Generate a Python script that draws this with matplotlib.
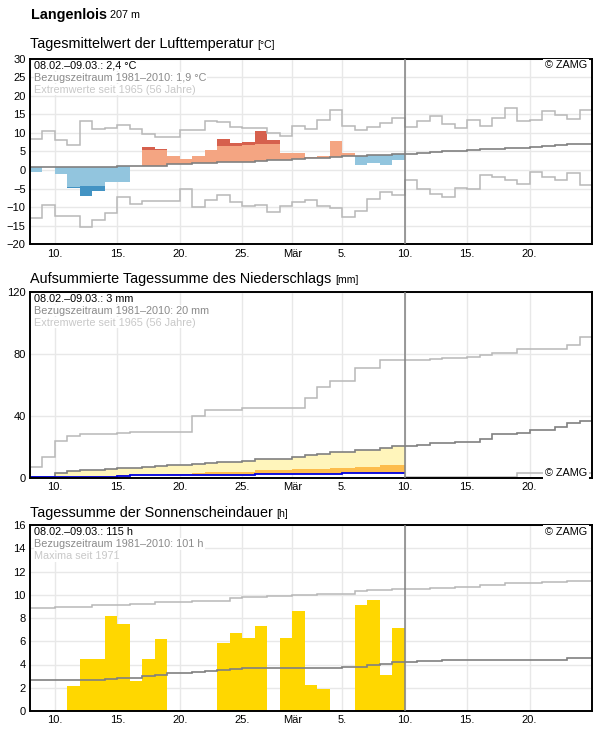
import numpy as np
import matplotlib
matplotlib.use("Agg")
import matplotlib.pyplot as plt

plt.rcParams['font.family'] = ['Liberation Sans', 'DejaVu Sans']

# ---------------- data ----------------
# x axis: days since 08.02. (45 days shown, 30 days observed)
tick_days = [2, 7, 12, 17, 21, 25, 30, 35, 40]
tick_labels = ["10.", "15.", "20.", "25.", "Mär", "5.", "10.", "15.", "20."]

# temperature (°C)
temp_obs = [-0.4, 0.8, -1.0, -4.7, -7.1, -5.6, -3.1, -3.3, 1.0, 6.3,
            5.8, 3.9, 3.1, 3.9, 5.5, 8.5, 7.3, 7.5, 10.4, 8.2,
            4.5, 4.7, 3.4, 3.9, 7.7, 4.5, 1.3, 1.9, 1.3, 2.8]
temp_warm_limit = [5.2, 5.2, 5.3, 5.3, 5.3, 5.4, 5.4, 5.4, 5.5, 5.5,
                   5.5, 5.6, 5.8, 6.0, 6.2, 6.4, 6.4, 6.7, 7.0, 7.0,
                   7.2, 7.4, 7.5, 7.7, 8.0, 8.1, 8.2, 8.4, 8.5, 8.7]
temp_cold_limit = [-4.6, -4.6, -4.5, -4.5, -4.2, -4.2, -4.2, -4.1, -4.0, -3.8,
                   -3.7, -3.5, -3.3, -3.1, -3.0, -2.8, -2.6, -2.5, -2.3, -2.1,
                   -2.0, -1.8, -1.6, -1.5, -1.3, -1.1, -1.0, -0.9, -0.7, -0.5]
temp_mean = [0.8, 0.8, 0.8, 0.8, 0.9, 0.9, 0.9, 1.0, 1.0, 1.1,
             1.2, 1.5, 1.6, 1.85, 1.95, 2.1, 2.15, 2.2, 2.5, 2.65,
             2.8, 3.0, 3.15, 3.3, 3.6, 3.7, 3.8, 4.0, 4.1, 4.3,
             4.4, 4.6, 4.8, 5.0, 5.2, 5.5, 5.6, 5.7, 5.9, 6.0,
             6.3, 6.5, 6.7, 6.9, 7.1]
temp_max = [8.4, 10.5, 8.0, 6.8, 13.2, 11.1, 11.4, 12.2, 11.1, 9.8,
            8.9, 8.9, 10.7, 10.7, 13.2, 12.9, 11.6, 11.3, 11.3, 10.0,
            9.3, 12.0, 11.1, 13.4, 16.3, 12.0, 10.7, 11.7, 12.7, 14.1,
            11.7, 13.2, 14.6, 12.5, 11.4, 13.4, 11.9, 14.0, 16.8, 13.1,
            13.4, 16.0, 14.9, 13.8, 16.3]
temp_min = [-13.0, -9.5, -12.5, -12.3, -15.3, -13.4, -11.6, -7.3, -9.2, -8.4,
            -8.4, -8.4, -5.1, -10.0, -8.0, -6.8, -8.6, -9.8, -9.5, -11.4,
            -9.8, -8.5, -8.1, -9.8, -10.1, -12.7, -11.0, -7.8, -5.9, -6.7,
            -2.7, -5.0, -6.4, -7.2, -4.7, -5.0, -1.3, -1.8, -2.8, -3.7,
            -0.5, -1.8, -2.8, -0.8, -3.9]

# precipitation, cumulative (mm)
prec_obs = [0.5, 0.5, 0.5, 0.5, 0.5, 0.5, 0.5, 1.1, 1.9, 1.9,
            1.9, 1.9, 1.9, 1.9, 1.9, 1.9, 1.9, 1.9, 2.6, 2.6,
            2.6, 2.6, 2.6, 2.6, 2.6, 3.2, 3.2, 3.2, 3.2, 3.2]
prec_dry_limit = [0.5, 0.5, 0.5, 0.5, 1.3, 1.3, 1.3, 2.1, 2.1, 2.1,
                  2.1, 2.8, 2.8, 3.4, 3.6, 3.6, 3.6, 3.6, 5.0, 5.0,
                  5.0, 5.8, 5.8, 5.8, 6.7, 6.7, 7.3, 7.3, 8.6, 8.6]
prec_mean = [0.4, 0.9, 3.0, 4.3, 5.0, 5.2, 5.8, 6.3, 6.7, 7.2,
             7.6, 8.2, 8.6, 9.2, 9.4, 10.0, 10.3, 10.8, 12.0, 12.2,
             12.4, 13.8, 15.0, 15.5, 16.5, 16.8, 17.8, 18.2, 19.5, 20.4,
             20.8, 21.5, 22.3, 22.7, 23.0, 23.0, 25.1, 28.1, 28.1, 28.8,
             30.7, 30.7, 33.0, 35.2, 36.5]
prec_max = [7.3, 13.3, 23.6, 26.8, 28.5, 28.5, 28.5, 29.2, 29.4, 29.4,
            29.4, 29.4, 29.4, 40.1, 44.0, 44.0, 44.0, 45.0, 45.0, 45.0,
            45.0, 45.0, 51.5, 58.4, 62.4, 62.4, 70.6, 70.6, 75.8, 75.8,
            75.8, 76.0, 76.6, 77.5, 77.5, 78.1, 79.0, 80.7, 80.7, 82.8,
            82.8, 82.8, 82.8, 85.4, 90.6]
prec_min = [0.0] * 30 + [0.6] * 9 + [3.5, 3.5, 3.5, 3.5, 3.5, 3.5]

# sunshine duration (h)
sun_obs = [0, 0, 0, 2.15, 4.47, 4.47, 8.17, 7.48, 2.58, 4.47,
           6.19, 0, 0, 0, 0, 5.85, 6.7, 6.27, 7.3, 0,
           6.27, 8.6, 2.23, 1.9, 0.08, 0, 9.1, 9.54, 3.1, 7.13]
sun_mean = [2.66, 2.66, 2.66, 2.66, 2.66, 2.66, 2.72, 2.8, 2.88, 3.04,
            3.1, 3.24, 3.3, 3.38, 3.44, 3.5, 3.58, 3.67, 3.67, 3.67,
            3.67, 3.67, 3.67, 3.67, 3.67, 3.81, 3.81, 3.95, 4.04, 4.18,
            4.18, 4.27, 4.27, 4.36, 4.36, 4.36, 4.36, 4.36, 4.36, 4.41,
            4.41, 4.41, 4.41, 4.53, 4.53]
sun_max = [8.83, 8.83, 8.91, 8.91, 8.91, 9.08, 9.08, 9.08, 9.2, 9.2,
           9.34, 9.34, 9.34, 9.46, 9.46, 9.46, 9.68, 9.77, 9.77, 9.89,
           9.89, 9.94, 9.94, 10.03, 10.1, 10.1, 10.3, 10.4, 10.4, 10.5,
           10.5, 10.5, 10.6, 10.6, 10.7, 10.7, 10.8, 10.8, 11.0, 11.0,
           11.0, 11.1, 11.1, 11.2, 11.2]

# ---------------- styling ----------------
W, H = 596, 729
C_LB, C_DB = '#92c5de', '#4393c3'
C_LR, C_DR = '#f4a582', '#d6604d'
C_MEAN = '#808080'
C_EXT = '#b8b8b8'
C_GRID = '#e8e8e8'
TXT_GRAY = '#8a8a8a'
TXT_LGRAY = '#c8c8c8'
FS_INFO = 7.8
FS_TICK = 8
FS_TITLE = 10.4
FS_UNIT = 7.6

fig = plt.figure(figsize=(W / 100, H / 100), dpi=100)


def px_axes(top, bottom):
    return fig.add_axes([30 / W, 1 - bottom / H, 562 / W, (bottom - top) / H])


n_all = len(temp_mean)
n_obs = len(temp_obs)
edges_all = np.arange(n_all + 1)
edges_obs = np.arange(n_obs + 1)
days_obs = np.arange(n_obs)


def style(ax, ylim, yticks):
    ax.set_xlim(0, n_all)
    ax.set_ylim(*ylim)
    ax.set_yticks(yticks)
    ax.set_xticks(tick_days)
    ax.set_xticklabels(tick_labels)
    ax.tick_params(length=0, labelsize=FS_TICK, pad=3.2)
    ax.grid(True, color=C_GRID, lw=1)
    ax.set_axisbelow(True)
    for s in ax.spines.values():
        s.set_linewidth(1.4)
        s.set_color('black')
    ax.axvline(n_obs, color=C_MEAN, lw=1.1, zorder=3)


def info(ax, lines):
    colors = ['black', TXT_GRAY, TXT_LGRAY]
    for i, (t, c) in enumerate(zip(lines, colors)):
        ax.annotate(t, xy=(0, 1), xycoords='axes fraction',
                    xytext=(4.5, -9.8 - 12.2 * i), textcoords='offset pixels',
                    ha='left', va='baseline', fontsize=FS_INFO, color=c, zorder=6,
                    bbox=dict(boxstyle='square,pad=0.05', fc='white', ec='none'))


def zamg(ax, top=True):
    if top:
        xy, off = (1, 1), (-5, -9.8)
    else:
        xy, off = (1, 0), (-5, 2.5)
    ax.annotate('© ZAMG', xy=xy, xycoords='axes fraction',
                xytext=off, textcoords='offset pixels',
                ha='right', va='baseline', fontsize=FS_INFO, color='black', zorder=6,
                bbox=dict(boxstyle='square,pad=0.15', fc='white', ec='none'))


def add_title(ypix, main, unit, size, unitsize, bold=False, gap=3):
    t = fig.text(30.5 / W, 1 - ypix / H, main, fontsize=size,
                 fontweight='bold' if bold else 'normal', ha='left', va='baseline')
    fig.canvas.draw()
    bb = t.get_window_extent(renderer=fig.canvas.get_renderer())
    fig.text((bb.x1 + gap) / W, 1 - ypix / H, unit, fontsize=unitsize,
             ha='left', va='baseline')


add_title(18.5, 'Langenlois', '207 m', 10.4, 7.8, bold=True, gap=3)
add_title(48.3, 'Tagesmittelwert der Lufttemperatur', '[°C]', FS_TITLE, FS_UNIT)
add_title(282.7, 'Aufsummierte Tagessumme des Niederschlags', '[mm]', FS_TITLE, FS_UNIT)
add_title(517.3, 'Tagessumme der Sonnenscheindauer', '[h]', FS_TITLE, FS_UNIT)

# ---------------- panel 1: temperature ----------------
ax1 = px_axes(58.7, 244.3)
style(ax1, (-20, 30), np.arange(-20, 31, 5))
obs = np.array(temp_obs)
mean_o = np.array(temp_mean[:n_obs])
warm = np.array(temp_warm_limit)
cold = np.array(temp_cold_limit)
above = obs >= mean_o
light_top = np.where(above, np.minimum(obs, warm), np.maximum(obs, cold))
ax1.bar(days_obs, light_top - mean_o, bottom=mean_o, width=1, align='edge',
        color=np.where(above, C_LR, C_LB), lw=0, zorder=1)
dark_w = above & (obs > warm)
ax1.bar(days_obs[dark_w], (obs - warm)[dark_w], bottom=warm[dark_w], width=1,
        align='edge', color=C_DR, lw=0, zorder=1)
dark_c = (~above) & (obs < cold)
ax1.bar(days_obs[dark_c], (obs - cold)[dark_c], bottom=cold[dark_c], width=1,
        align='edge', color=C_DB, lw=0, zorder=1)
ax1.stairs(temp_max, edges_all, baseline=None, color=C_EXT, lw=1.1, zorder=2)
ax1.stairs(temp_min, edges_all, baseline=None, color=C_EXT, lw=1.1, zorder=2)
ax1.stairs(temp_mean, edges_all, baseline=None, color=C_MEAN, lw=1.2, zorder=2)
info(ax1, ['08.02.–09.03.: 2,4 °C', 'Bezugszeitraum 1981–2010: 1,9 °C',
           'Extremwerte seit 1965 (56 Jahre)'])
zamg(ax1, top=True)

# ---------------- panel 2: precipitation ----------------
ax2 = px_axes(291.7, 478)
style(ax2, (0, 120), [0, 40, 80, 120])
ax2.stairs(prec_mean[:n_obs], edges_obs, baseline=prec_obs, fill=True,
           color='#fff5bb', lw=0, zorder=1)
ax2.stairs(prec_dry_limit, edges_obs, baseline=prec_obs, fill=True,
           color='#fdbd4d', lw=0, zorder=1.1)
ax2.stairs(prec_max, edges_all, baseline=None, color=C_EXT, lw=1.1, zorder=2)
ax2.stairs(prec_min, edges_all, baseline=None, color=C_EXT, lw=1.1, zorder=2)
ax2.stairs(prec_mean, edges_all, baseline=None, color=C_MEAN, lw=1.2, zorder=2)
ax2.stairs(prec_obs, edges_obs, baseline=None, color='#0000e0', lw=1.3, zorder=2.5)
info(ax2, ['08.02.–09.03.: 3 mm', 'Bezugszeitraum 1981–2010: 20 mm',
           'Extremwerte seit 1965 (56 Jahre)'])
zamg(ax2, top=False)

# ---------------- panel 3: sunshine ----------------
ax3 = px_axes(525, 711)
style(ax3, (0, 16), np.arange(0, 17, 2))
ax3.bar(days_obs, sun_obs, width=1, align='edge', color='#ffd700', lw=0, zorder=1)
ax3.stairs(sun_max, edges_all, baseline=None, color=C_EXT, lw=1.1, zorder=2)
ax3.stairs(sun_mean, edges_all, baseline=None, color=C_MEAN, lw=1.2, zorder=2)
info(ax3, ['08.02.–09.03.: 115 h', 'Bezugszeitraum 1981–2010: 101 h',
           'Maxima seit 1971'])
zamg(ax3, top=True)

fig.savefig('out.png', dpi=100)
